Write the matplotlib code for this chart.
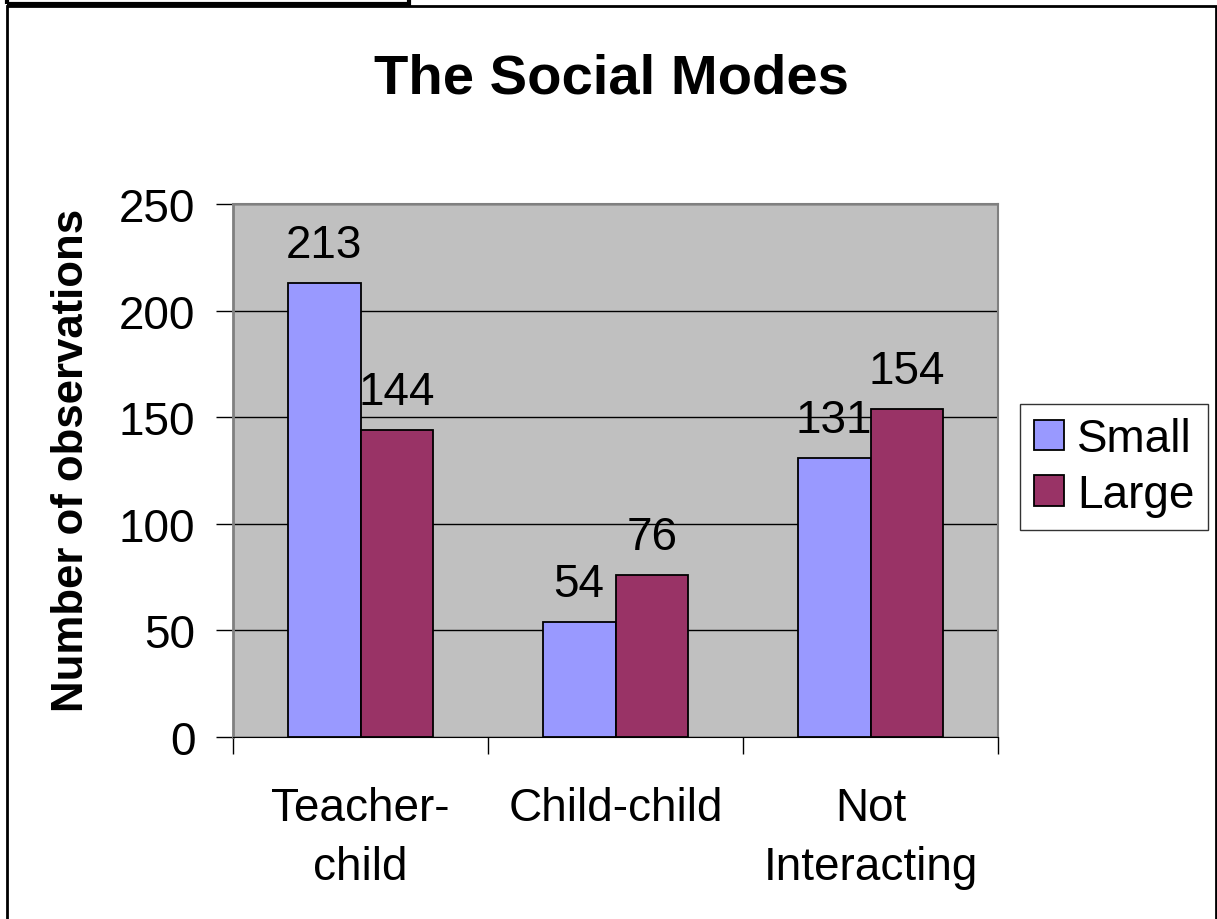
import matplotlib
matplotlib.use("Agg")
import matplotlib.pyplot as plt
import numpy as np
from matplotlib.patches import Rectangle

categories = ["Teacher-\nchild", "Child-child", "Not\nInteracting"]
series_names = ["Small", "Large"]
small = [213, 54, 131]
large = [144, 76, 154]
colors = ["#9999FF", "#993366"]

plt.rcParams['font.family'] = ['Liberation Sans', 'DejaVu Sans']

W, H = 1217, 920
fig = plt.figure(figsize=(W / 100, H / 100), dpi=100)

# outer frames
fig.add_artist(Rectangle((7 / W, 1 - 920 / H - 0.01), (1216 - 7) / W, (920 - 7) / H + 0.01,
                         transform=fig.transFigure, fill=False, lw=2, ec="black"))
fig.add_artist(Rectangle((7 / W, 1 - 5 / H), (409 - 7) / W, 0.01,
                         transform=fig.transFigure, fill=False, lw=3, ec="black"))

ax = fig.add_axes([233 / W, 1 - 738 / H, (998 - 233) / W, (738 - 205) / H])
ax.set_facecolor("#C0C0C0")

FS = 33
x = np.arange(len(categories))
bw = 0.286
b1 = ax.bar(x - bw / 2, small, bw, color=colors[0], edgecolor="black", lw=1.3, label=series_names[0], zorder=3)
b2 = ax.bar(x + bw / 2, large, bw, color=colors[1], edgecolor="black", lw=1.3, label=series_names[1], zorder=3)
for bars, vals in ((b1, small), (b2, large)):
    for r, v in zip(bars, vals):
        ax.text(r.get_x() + r.get_width() / 2, v + 12, str(v), ha="center", va="baseline",
                fontsize=FS, zorder=4)

ax.set_xlim(-0.5, 2.5)
ax.set_ylim(0, 250)
ax.set_yticks(range(0, 251, 50))
ax.set_yticklabels([str(v) for v in range(0, 251, 50)], fontsize=FS)
ax.yaxis.grid(True, color="black", lw=1)
ax.set_axisbelow(True)
ax.tick_params(axis="y", length=12, width=1, pad=15, direction="out")
ax.set_xticks([-0.5, 0.5, 1.5, 2.5])
ax.set_xticklabels([])
ax.tick_params(axis="x", length=12, width=1, direction="out")
for i, c in enumerate(categories):
    xf = (233 + (i + 0.5) * 255) / W
    fig.text(xf, 1 - 787 / H, c, ha="center", va="top", fontsize=FS, linespacing=1.45)
for s in ("top", "right"):
    ax.spines[s].set_color("#808080")
ax.spines["left"].set_color("#808080")
ax.spines["bottom"].set_color("black")
ax.spines["left"].set_linewidth(2)
ax.spines["top"].set_linewidth(1.5)
ax.spines["right"].set_linewidth(1.5)

ax.set_ylabel("Number of observations", fontsize=31.5, fontweight="bold")
ax.yaxis.set_label_coords(-0.184, 0.52)
fig.text(0.5 + 3 / W, 1 - 94 / H, "The Social Modes", ha="center", va="baseline",
         fontsize=40.5, fontweight="bold")

leg = ax.legend(loc="center left", bbox_to_anchor=(1020 / W, 1 - 468 / H),
                bbox_transform=fig.transFigure, fontsize=FS, frameon=True, fancybox=False,
                edgecolor="black", handlelength=0.65, handleheight=0.65, handletextpad=0.3,
                borderpad=0.3, labelspacing=0.25, borderaxespad=0)
leg.get_frame().set_linewidth(1)

fig.savefig("out.png", dpi=100)
